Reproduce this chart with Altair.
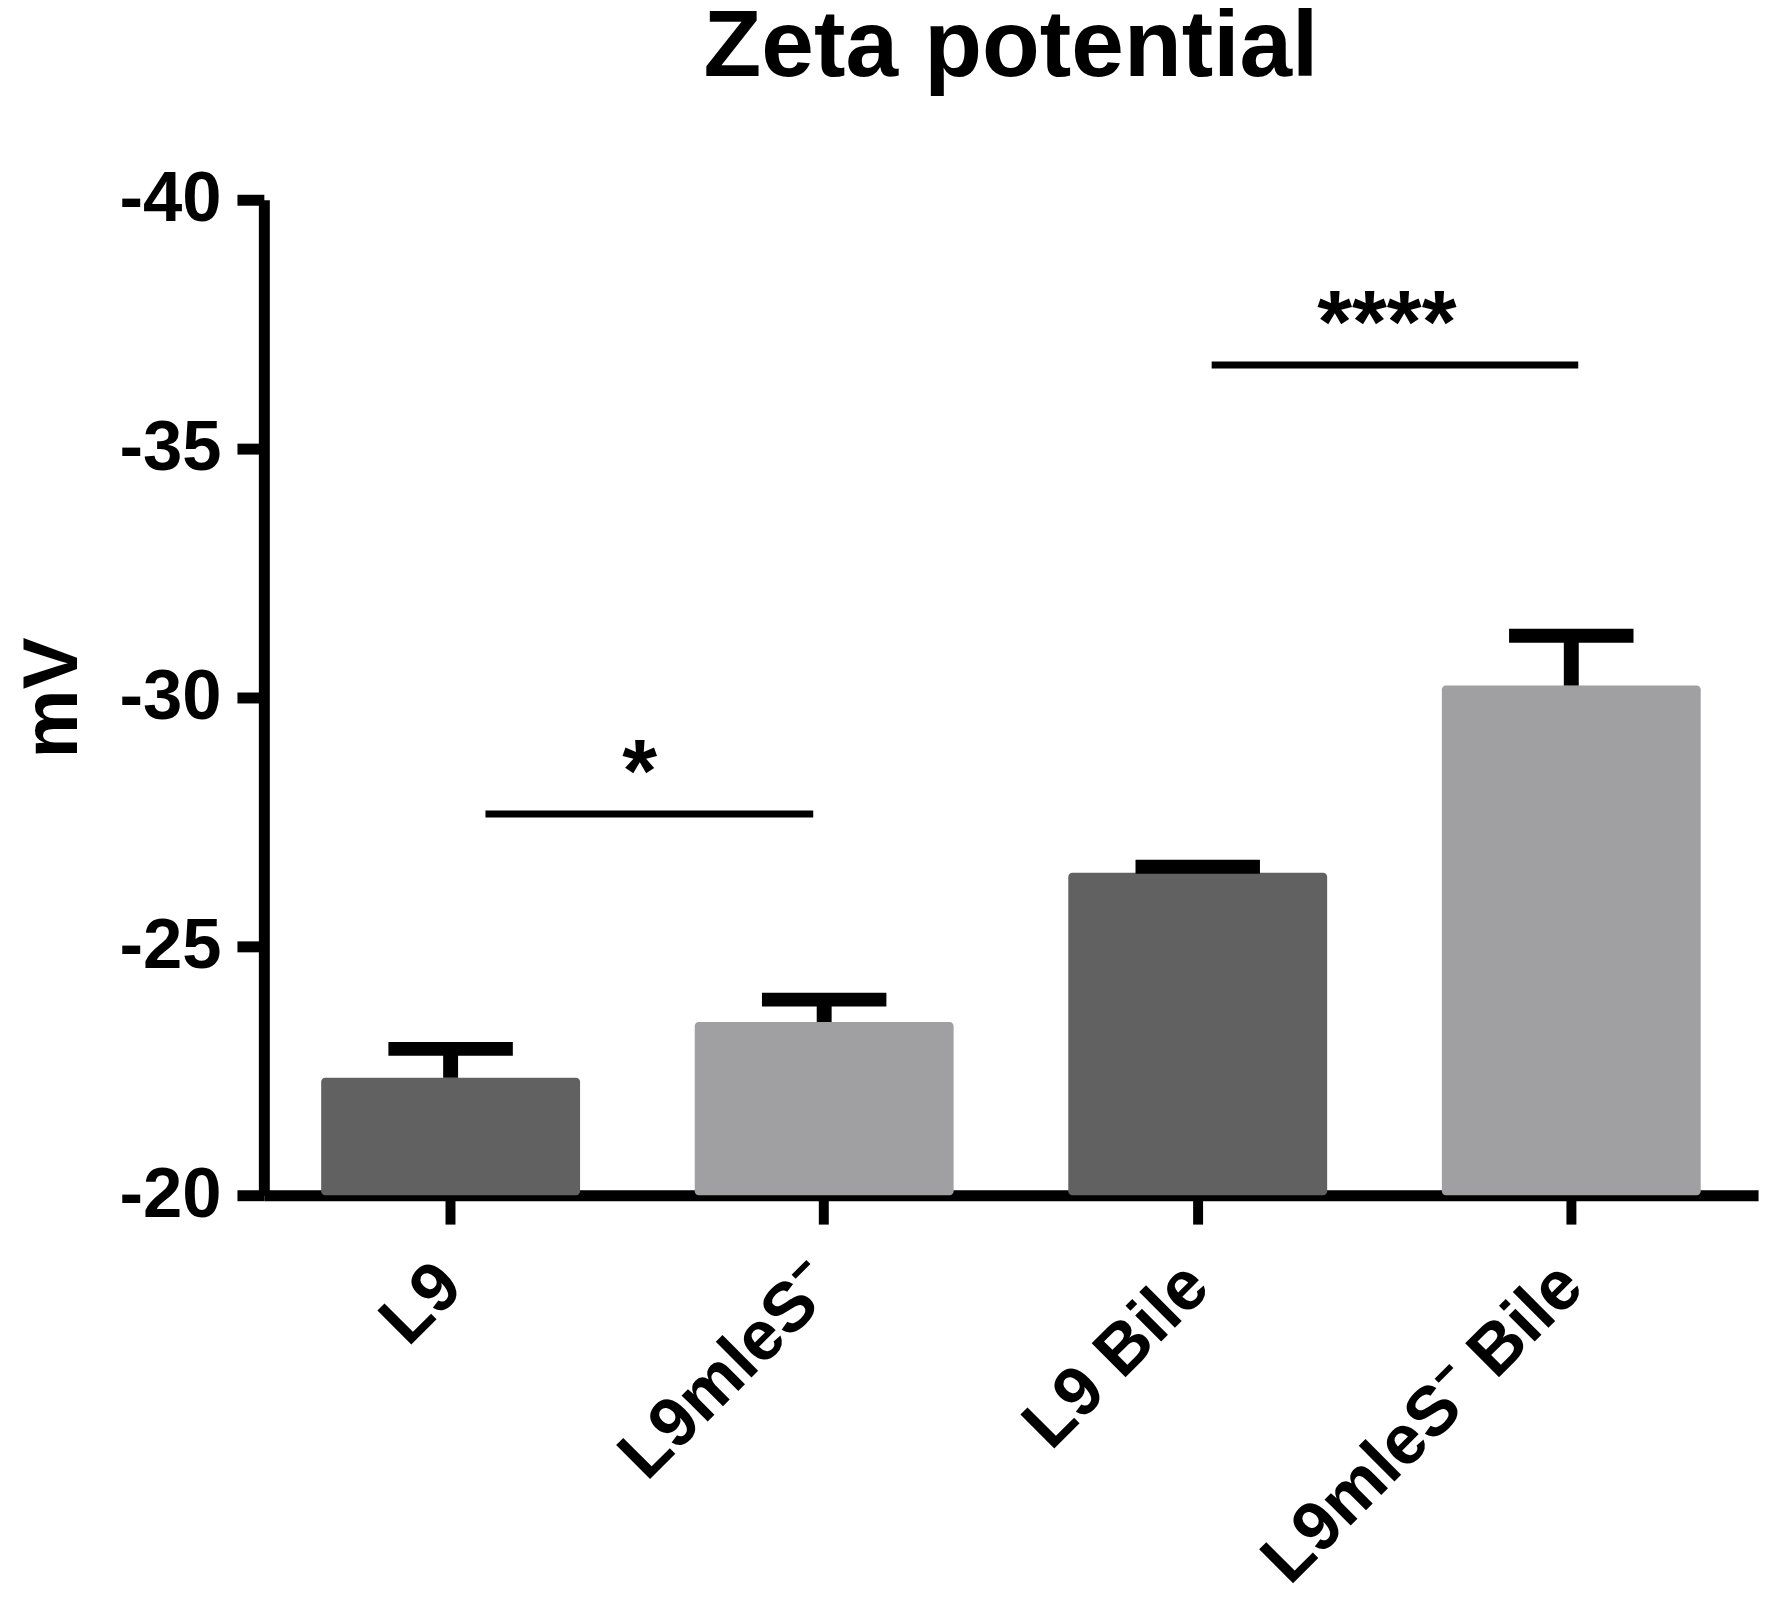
import altair as alt
import pandas as pd

# ---- data ----
groups = ["L9", "L9mleS\u207b", "L9 Bile", "L9mleS\u207b Bile"]
means = [-22.36, -23.48, -26.48, -30.24]
uppers = [-22.94, -23.93, -26.60, -31.24]
bar_colors = ["#616161", "#a0a0a3", "#616161", "#a0a0a3"]

sig_from = ["L9", "L9 Bile"]
sig_to = ["L9mleS\u207b", "L9mleS\u207b Bile"]
sig_y = [-27.66, -36.68]
sig_text = ["*", "****"]

y_ticks = [-40, -35, -30, -25, -20]
y_min, y_max = -40, -20

FONT = "Liberation Sans, Arial, Helvetica, sans-serif"

df = pd.DataFrame({"group": groups, "mean": means, "upper": uppers, "base": [y_max] * 4})
sig = pd.DataFrame({"g1": sig_from, "g2": sig_to, "y": sig_y, "label": sig_text})

xscale = alt.Scale(domain=groups, paddingInner=0.307, paddingOuter=0.1535)
yscale = alt.Scale(domain=[y_min, y_max], reverse=True, nice=False, zero=False)

x_axis = alt.Axis(
    title=None,
    labelAngle=-45,
    labelAlign="right",
    labelBaseline="middle",
    labelFont=FONT,
    labelFontSize=70,
    labelFontWeight="bold",
    labelColor="black",
    labelPadding=51,
    labelLimit=2000,
    labelOverlap=False,
    domainColor="black",
    domainWidth=11,
    tickColor="black",
    tickWidth=10,
    tickSize=29,
)
y_axis = alt.Axis(
    title="mV",
    values=y_ticks,
    labelExpr="'-' + abs(datum.value)",
    labelFont=FONT,
    labelFontSize=71,
    labelFontWeight="bold",
    labelColor="black",
    labelPadding=16,
    labelBaseline="middle",
    labelLimit=2000,
    domainColor="black",
    domainWidth=11,
    tickColor="black",
    tickWidth=11,
    tickSize=27,
    grid=False,
    titleFont=FONT,
    titleFontSize=78,
    titleFontWeight="bold",
    titleColor="black",
    titleAngle=-90,
    titleAlign="center",
    titleBaseline="alphabetic",
    titleX=-188,
    titleY=500,
)

base = alt.Chart(df)

bars = base.mark_bar(cornerRadius=4).encode(
    x=alt.X("group:N", scale=xscale, axis=x_axis, sort=groups),
    y=alt.Y("mean:Q", scale=yscale, axis=y_axis),
    y2="base:Q",
    color=alt.Color("group:N", scale=alt.Scale(domain=groups, range=bar_colors), legend=None),
)

stems = base.mark_rule(color="black", strokeWidth=15).encode(
    x=alt.X("group:N", scale=xscale, sort=groups),
    y=alt.Y("mean:Q", scale=yscale),
    y2="upper:Q",
)

caps = base.mark_tick(color="black", size=125, thickness=14, opacity=1).encode(
    x=alt.X("group:N", scale=xscale, sort=groups),
    y=alt.Y("upper:Q", scale=yscale),
)

sig1 = alt.Chart(sig.iloc[[0]]).mark_rule(color="black", strokeWidth=7, xOffset=35, x2Offset=-11).encode(
    x=alt.X("g1:N", scale=xscale, sort=groups),
    x2="g2:N",
    y=alt.Y("y:Q", scale=yscale),
)
sig2 = alt.Chart(sig.iloc[[1]]).mark_rule(color="black", strokeWidth=7, xOffset=14, x2Offset=7).encode(
    x=alt.X("g1:N", scale=xscale, sort=groups),
    x2="g2:N",
    y=alt.Y("y:Q", scale=yscale),
)

stars = alt.Chart(sig).mark_text(
    font=FONT, fontSize=90, fontWeight="bold", color="black",
    align="center", baseline="alphabetic", xOffset=190, dy=-13,
).encode(
    x=alt.X("g1:N", scale=xscale, sort=groups),
    y=alt.Y("y:Q", scale=yscale),
    text="label:N",
)

chart = (
    alt.layer(bars, stems, caps, sig1, sig2, stars)
    .properties(
        width=1501,
        height=1000,
        autosize=alt.AutoSizeParams(type="none"),
        padding={"left": 257, "top": 189, "right": 14, "bottom": 405},
        title=alt.TitleParams(
            "Zeta potential",
            font=FONT,
            fontSize=95,
            fontWeight="bold",
            color="black",
            anchor="middle",
            frame="group",
            baseline="alphabetic",
            offset=-7,
            limit=2000,
        ),
    )
    .configure(background="white", view=alt.ViewConfig(stroke=None))
)

chart.save("out.html", embed_options={"renderer": "svg", "actions": False})
